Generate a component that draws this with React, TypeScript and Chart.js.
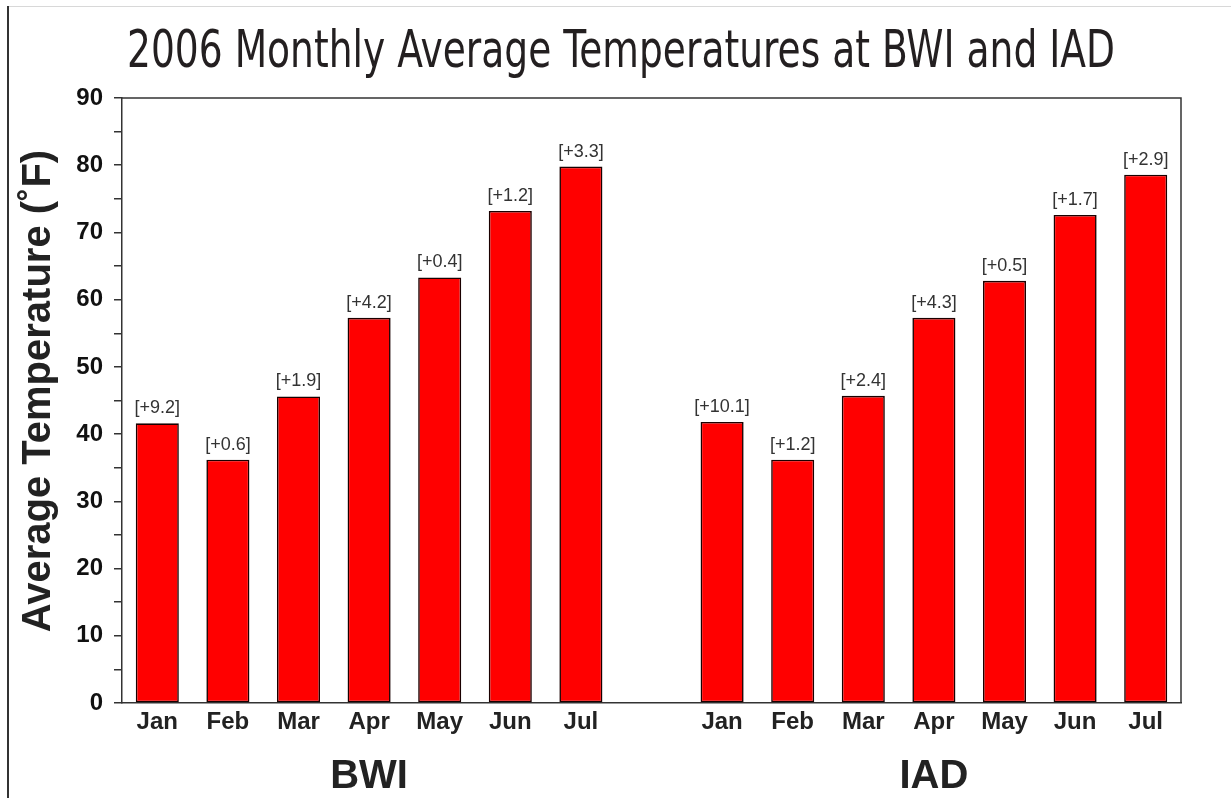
import React, { useEffect, useRef } from "react";
import { Chart, registerables } from "chart.js";

Chart.register(...registerables);

const TITLE = "2006 Monthly Average Temperatures at BWI and IAD";
const Y_TITLE = "Average Temperature (˚F)";
const MONTHS = ["Jan", "Feb", "Mar", "Apr", "May", "Jun", "Jul"];
const STATIONS = ["BWI", "IAD"];
const BWI_TEMPS = [41.6, 36.2, 45.6, 57.3, 63.3, 73.2, 79.8];
const IAD_TEMPS = [41.8, 36.2, 45.7, 57.3, 62.8, 72.6, 78.6];
const BWI_DEPARTURES = [9.2, 0.6, 1.9, 4.2, 0.4, 1.2, 3.3];
const IAD_DEPARTURES = [10.1, 1.2, 2.4, 4.3, 0.5, 1.7, 2.9];
const Y_MIN = 0;
const Y_MAX = 90;
const Y_STEP = 5;
const Y_LABEL_STEP = 10;

const LABELS = [...MONTHS, "", ...MONTHS];
const VALUES: (number | null)[] = [...BWI_TEMPS, null, ...IAD_TEMPS];
const DEPARTURES: (number | null)[] = [...BWI_DEPARTURES, null, ...IAD_DEPARTURES];
const GROUP_CENTER_INDEX = [3, 11];

const SANS = "'Liberation Sans', Arial, sans-serif";

const decorPlugin = {
  id: "decor",
  afterDraw(chart: any) {
    const ctx = chart.ctx as CanvasRenderingContext2D;
    const area = chart.chartArea;
    const xs = chart.scales.x;

    // frame top & right
    ctx.save();
    ctx.strokeStyle = "#333";
    ctx.lineWidth = 1.5;
    ctx.beginPath();
    ctx.moveTo(area.left, area.top);
    ctx.lineTo(area.right, area.top);
    ctx.lineTo(area.right, area.bottom);
    ctx.stroke();
    ctx.restore();

    // bar labels
    const meta = chart.getDatasetMeta(0);
    ctx.save();
    ctx.font = `18px ${SANS}`;
    ctx.fillStyle = "#333";
    ctx.textAlign = "center";
    ctx.textBaseline = "alphabetic";
    meta.data.forEach((el: any, i: number) => {
      const d = DEPARTURES[i];
      if (d === null || VALUES[i] === null) return;
      ctx.fillText(`[+${d.toFixed(1)}]`, el.x, el.y - 10);
    });
    ctx.restore();

    // group labels
    ctx.save();
    ctx.font = `bold 40px ${SANS}`;
    ctx.fillStyle = "#222";
    ctx.textAlign = "center";
    ctx.textBaseline = "alphabetic";
    STATIONS.forEach((s, k) => {
      const x = xs.getPixelForValue(GROUP_CENTER_INDEX[k]);
      ctx.fillText(s, x, 788);
    });
    ctx.restore();

    // main title, fitted to reference width
    ctx.save();
    ctx.font = `51px 'Liberation Sans Narrow', 'DejaVu Sans Condensed', ${SANS}`;
    ctx.fillStyle = "#231f20";
    ctx.textAlign = "center";
    ctx.textBaseline = "alphabetic";
    const w = ctx.measureText(TITLE).width;
    const target = 988;
    ctx.translate(621, 67);
    ctx.scale(target / w, 1);
    ctx.fillText(TITLE, 0, 0);
    ctx.restore();

    // y title
    ctx.save();
    ctx.font = `bold 40px ${SANS}`;
    ctx.fillStyle = "#222";
    ctx.textAlign = "center";
    ctx.textBaseline = "middle";
    ctx.translate(39, 391);
    ctx.rotate(-Math.PI / 2);
    ctx.fillText(Y_TITLE, 0, 0);
    ctx.restore();
  },
};

export default function App() {
  const ref = useRef<HTMLCanvasElement | null>(null);

  useEffect(() => {
    if (!ref.current) return;
    const chart = new Chart(ref.current, {
      type: "bar",
      data: {
        labels: LABELS,
        datasets: [
          {
            data: VALUES as any,
            backgroundColor: "#ff0000",
            borderColor: "#1a0000",
            borderWidth: 1.6,
            borderSkipped: false,
            barPercentage: 0.61,
            categoryPercentage: 1,
          },
        ],
      },
      options: {
        animation: false,
        responsive: false,
        devicePixelRatio: 1,
        layout: { padding: { top: 98, right: 50, left: 0, bottom: 0 } },
        plugins: {
          legend: { display: false },
          title: { display: false },
          tooltip: { enabled: false },
        },
        scales: {
          x: {
            grid: { display: false, drawTicks: false },
            border: { display: true, color: "#333", width: 1.5 },
            ticks: {
              color: "#222",
              font: { family: SANS, size: 24, weight: "bold" },
              padding: 5,
              autoSkip: false,
              maxRotation: 0,
            },
            afterFit(scale: any) {
              scale.height = 95;
            },
          },
          y: {
            min: Y_MIN,
            max: Y_MAX,
            grid: {
              display: true,
              drawOnChartArea: false,
              drawTicks: true,
              tickLength: 8,
              color: "#333",
              lineWidth: 1.5,
            },
            border: { display: true, color: "#333", width: 1.5 },
            ticks: {
              stepSize: Y_STEP,
              color: "#111",
              font: { family: SANS, size: 24, weight: "bold" },
              padding: 11,
              callback: (v: any) => (Number(v) % Y_LABEL_STEP === 0 ? String(v) : ""),
            },
            afterFit(scale: any) {
              scale.width = 122;
            },
          },
        },
      },
      plugins: [decorPlugin],
    });
    return () => chart.destroy();
  }, []);

  return (
    <div style={{ position: "absolute", left: 0, top: 0, width: 1231, height: 798, background: "#fff", overflow: "hidden" }}>
      <canvas ref={ref} width={1231} height={798} style={{ display: "block", position: "absolute", left: 0, top: 0 }} />
      <div style={{ position: "absolute", left: 7, top: 6, width: 1224, height: 1, background: "#d8d8d8" }} />
      <div style={{ position: "absolute", left: 7, top: 6, width: 1.5, height: 792, background: "#333" }} />
    </div>
  );
}
